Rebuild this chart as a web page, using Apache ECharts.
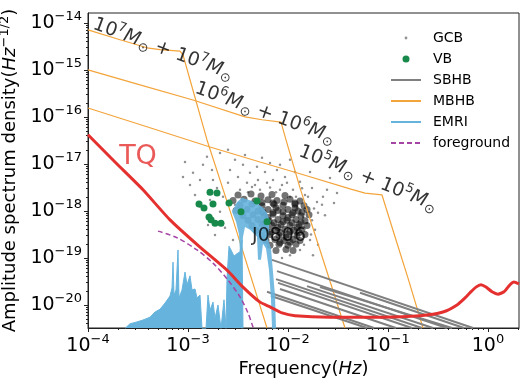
<!DOCTYPE html>
<html><head><meta charset="utf-8">
<script src="https://cdn.jsdelivr.net/npm/echarts@6/dist/echarts.min.js"></script>
<style>html,body{margin:0;padding:0;background:#fff}#c{width:520px;height:378px}</style>
</head><body><div id="c"></div>
<script>
// All values are log10(frequency / Hz) and log10(amplitude / Hz^-1/2)
const xMajor = [-4, -3, -2, -1, 0];
const yMajor = [-20, -19, -18, -17, -16, -15, -14];
const xRange = [-4, 0.31];
const yRange = [-20.49, -13.79];

const tq = [[-4.00,-16.38],[-3.73,-16.96],[-3.45,-17.55],[-3.18,-18.19],[-2.88,-18.77],[-2.61,-19.26],[-2.45,-19.62],[-2.28,-19.94],[-2.18,-20.04],[-2.06,-20.17],[-1.93,-20.23],[-1.58,-20.26],[-1.06,-20.26],[-0.68,-20.23],[-0.45,-20.15],[-0.31,-20.00],[-0.23,-19.85],[-0.18,-19.74],[-0.12,-19.62],[-0.07,-19.57],[-0.02,-19.62],[0.04,-19.72],[0.10,-19.77],[0.16,-19.72],[0.22,-19.57],[0.26,-19.51],[0.31,-19.55]];

const mbhb7 = [[-4,-14.15],[-3.68,-14.36],[-3.41,-14.53],[-3.28,-14.57],[-3.08,-14.60],[-3.05,-14.68],[-2.98,-15.21],[-2.81,-16.49],[-2.55,-18.19],[-2.21,-20.49]];
const mbhb6 = [[-4,-15.00],[-3.48,-15.32],[-2.95,-15.64],[-2.43,-16.00],[-2.26,-16.06],[-2.07,-16.11],[-2.02,-16.49],[-1.88,-17.51],[-1.68,-18.83],[-1.43,-20.49]];
const mbhb5 = [[-4,-15.81],[-3.38,-16.23],[-2.78,-16.64],[-2.28,-16.96],[-1.88,-17.21],[-1.38,-17.53],[-1.23,-17.62],[-1.06,-17.66],[-0.93,-18.55],[-0.80,-19.43],[-0.65,-20.49]];

const sbhbLines = [
  [[-2.16,-19.04],[-0.15,-20.49]],
  [[-2.11,-19.28],[-0.41,-20.49]],
  [[-2.12,-19.45],[-0.66,-20.49]],
  [[-2.10,-19.53],[-0.76,-20.49]],
  [[-1.81,-19.60],[-0.55,-20.49]],
  [[-1.68,-19.62],[-0.36,-20.49]],
  [[-1.28,-19.74],[-0.24,-20.49]],
  [[-2.21,-19.72],[-1.14,-20.49]],
  [[-2.17,-19.81],[-1.21,-20.49]],
  [[-2.08,-19.66],[-0.92,-20.49]]
];

const emriLow = [[-3.63,-20.5],[-3.58,-20.40],[-3.51,-20.36],[-3.45,-20.32],[-3.38,-20.26],[-3.33,-20.15],[-3.28,-20.09],[-3.23,-19.96],[-3.18,-19.81],[-3.16,-19.64],[-3.15,-19.09],[-3.14,-19.79],[-3.12,-19.68],[-3.10,-18.83],[-3.09,-19.85],[-3.06,-19.68],[-3.03,-19.30],[-3.01,-19.57],[-2.98,-19.38],[-2.96,-19.68],[-2.93,-19.66],[-2.91,-19.85],[-2.88,-19.79],[-2.86,-20.5],[-2.82,-20.5],[-2.80,-19.79],[-2.78,-20.11],[-2.75,-19.94],[-2.73,-20.28],[-2.70,-20.00],[-2.67,-20.5],[-2.64,-19.89],[-2.62,-20.5],[-2.61,-19.43],[-2.59,-18.75],[-2.57,-18.83],[-2.54,-18.96],[-2.51,-18.91],[-2.48,-18.87],[-2.46,-18.62],[-2.45,-20.5]];
const emriPatch = [[-2.56,-18.02],[-2.51,-17.81],[-2.46,-17.72],[-2.36,-17.79],[-2.30,-17.85],[-2.25,-17.93],[-2.21,-18.04],[-2.19,-18.17],[-2.19,-18.36],[-2.20,-18.60],[-2.17,-18.80],[-2.15,-19.30],[-2.13,-19.80],[-2.12,-20.5],[-2.16,-20.5],[-2.17,-19.89],[-2.19,-19.26],[-2.22,-18.80],[-2.25,-18.70],[-2.27,-19.04],[-2.30,-19.04],[-2.31,-18.55],[-2.38,-18.40],[-2.43,-18.34],[-2.45,-18.55],[-2.46,-18.90],[-2.48,-18.90],[-2.49,-18.50],[-2.52,-18.23]];

const foreground = [[-3.30,-18.43],[-3.11,-18.57],[-2.91,-18.83],[-2.75,-19.11],[-2.60,-19.47],[-2.48,-19.83],[-2.40,-20.17],[-2.35,-20.47],[-2.34,-20.53]];

const gcbSparse = [[-3.03,-16.96],[-2.85,-17.02],[-2.81,-16.85],[-2.68,-16.77],[-2.53,-16.91],[-2.38,-17.19],[-2.31,-17.06],[-2.18,-16.98],[-2.11,-17.13],[-2.03,-17.28],[-1.88,-17.38],[-1.78,-17.17],[-1.71,-17.81],[-1.70,-18.04],[-1.61,-17.55],[-1.51,-17.62],[-1.81,-18.26],[-2.68,-18.02],[-2.65,-17.70],[-2.60,-17.40],[-2.48,-17.55],[-2.30,-17.34],[-2.08,-17.55],[-1.98,-17.70],[-1.91,-17.91],[-1.85,-18.13],[-2.28,-17.55],[-2.41,-17.40],[-2.95,-17.19],[-2.88,-17.34],[-2.50,-17.28],[-2.21,-17.40],[-2.15,-17.34],[-2.01,-17.40],[-1.95,-17.55],[-2.71,-17.51],[-2.76,-17.13],[-2.58,-17.13],[-3.05,-17.28],[-2.93,-17.66],[-2.78,-17.77],[-2.75,-17.34],[-2.45,-17.02],[-2.23,-17.17],[-1.93,-17.17],[-1.83,-17.66],[-1.76,-17.51],[-1.66,-17.87],[-1.58,-17.30],[-1.63,-18.09],[-1.73,-18.40],[-1.78,-18.62],[-1.70,-18.72],[-2.80,-18.30],[-2.73,-18.51],[-2.63,-18.36],[-2.55,-18.62],[-2.43,-16.81],[-2.26,-16.87],[-2.98,-17.45],[-2.88,-17.91],[-2.08,-17.02],[-1.65,-17.70],[-1.54,-17.83],[-2.60,-16.70],[-1.98,-16.91],[-2.36,-17.49],[-2.53,-17.87],[-1.88,-18.83],[-1.98,-18.94],[-1.75,-18.94],[-2.06,-19.00],[-2.40,-17.60],[-2.33,-17.45],[-2.18,-17.50],[-2.06,-17.45],[-1.86,-17.52],[-1.80,-17.70],[-1.74,-17.95],[-1.76,-18.20],[-1.77,-18.50],[-1.84,-18.72],[-2.12,-17.60],[-1.92,-17.70]];
const gcbCore = [[-2.50,-17.66],[-2.37,-17.64],[-2.27,-17.68],[-2.16,-17.65],[-2.03,-17.67],[-2.55,-17.78],[-2.44,-17.75],[-2.33,-17.79],[-2.20,-17.76],[-2.11,-17.78],[-1.98,-17.75],[-1.88,-17.79],[-2.48,-17.88],[-2.36,-17.86],[-2.26,-17.89],[-2.14,-17.86],[-2.05,-17.88],[-1.93,-17.86],[-1.84,-17.89],[-2.52,-17.99],[-2.41,-17.97],[-2.30,-18.00],[-2.20,-17.97],[-2.10,-17.99],[-2.00,-17.97],[-1.90,-18.00],[-1.81,-17.97],[-2.45,-18.10],[-2.35,-18.08],[-2.24,-18.10],[-2.15,-18.07],[-2.05,-18.10],[-1.96,-18.08],[-1.87,-18.10],[-1.79,-18.08],[-2.40,-18.20],[-2.30,-18.18],[-2.19,-18.21],[-2.10,-18.18],[-2.01,-18.20],[-1.92,-18.18],[-1.83,-18.21],[-2.36,-18.31],[-2.26,-18.29],[-2.16,-18.31],[-2.07,-18.29],[-1.98,-18.31],[-1.89,-18.29],[-1.81,-18.31],[-2.32,-18.41],[-2.22,-18.39],[-2.13,-18.41],[-2.03,-18.39],[-1.94,-18.41],[-1.86,-18.39],[-2.26,-18.52],[-2.18,-18.50],[-2.09,-18.52],[-2.00,-18.50],[-1.91,-18.52],[-1.83,-18.50],[-2.22,-18.63],[-2.13,-18.61],[-2.04,-18.63],[-1.95,-18.61],[-1.88,-18.63],[-2.18,-18.73],[-2.09,-18.71],[-2.00,-18.73],[-1.92,-18.71],[-2.12,-18.84],[-2.02,-18.82],[-1.95,-18.84],[-2.26,-17.82],[-2.15,-17.83],[-2.04,-17.81],[-1.93,-17.83],[-2.25,-18.03],[-2.15,-18.04],[-2.05,-18.02],[-1.95,-18.04],[-1.86,-18.03],[-2.24,-18.24],[-2.14,-18.25],[-2.05,-18.23],[-1.96,-18.25],[-1.87,-18.24],[-2.18,-18.45],[-2.08,-18.46],[-1.98,-18.44],[-1.89,-18.46],[-2.08,-18.67],[-1.98,-18.66],[-2.20,-18.14],[-2.10,-18.35],[-2.00,-18.14],[-1.91,-18.35],[-2.02,-18.56],[-1.93,-17.94],[-2.12,-17.93]];

const vb = [[-2.78,-17.60],[-2.71,-17.62],[-2.89,-17.85],[-2.84,-17.94],[-2.75,-17.85],[-2.59,-17.83],[-2.47,-18.02],[-2.31,-17.79],[-2.79,-18.13],[-2.77,-18.19],[-2.73,-18.26],[-2.67,-18.26],[-2.21,-18.23]];

const massLabels = [
  {text: ['7', '7'], pos: [-3.25, -14.56], angle: -20},
  {text: ['6', '6'], pos: [-2.23, -15.92], angle: -20},
  {text: ['5', '5'], pos: [-1.20, -17.31], angle: -22}
];
const tqLabel = {text: 'TQ', pos: [-3.50, -16.85]};
const srcLabel = {text: 'J0806', pos: [-2.09, -18.53]};

const FONT = 'DejaVu Sans';
const RED = '#e4312f', ORANGE = '#f3a43b', GRAY = '#808080', BLUE = '#66b4de', PURPLE = '#a545a5', GREEN = '#17894b';

const minorX = [], minorY = [];
for (let n = -21; n <= 1; n++) for (let k = 2; k <= 9; k++) {
  const v = n + Math.log10(k);
  if (v > xRange[0] && v < xRange[1]) minorX.push(v);
  if (v > yRange[0] && v < yRange[1]) minorY.push(v);
}
const powLabel = v => {
  const e = Math.round(v);
  return '{b|10}{s|' + (e < 0 ? '\u2212' + (-e) : e) + '}';
};
const tickRich = {
  b: {fontFamily: FONT, fontSize: 19, color: '#000', lineHeight: 26, verticalAlign: 'middle'},
  s: {fontFamily: FONT, fontSize: 13, color: '#000', verticalAlign: 'top', lineHeight: 26}
};
const nameRich = {
  t: {fontFamily: FONT, fontSize: 18, color: '#000'},
  i: {fontFamily: FONT, fontSize: 18, color: '#000', fontStyle: 'italic'},
  s: {fontFamily: FONT, fontSize: 13, color: '#000', verticalAlign: 'top', lineHeight: 24}
};
const massRich = {
  n: {fontFamily: FONT, fontSize: 19, color: '#000', lineHeight: 25, verticalAlign: 'middle'},
  p: {fontFamily: FONT, fontSize: 13, color: '#000', verticalAlign: 'top', lineHeight: 25},
  m: {fontFamily: FONT, fontSize: 19, color: '#000', fontStyle: 'italic', lineHeight: 25, verticalAlign: 'middle'},
  o: {fontFamily: FONT, fontSize: 13, color: '#000', verticalAlign: 'bottom', lineHeight: 25}
};

const lineS = (name, data, color, width, extra) => Object.assign({
  type: 'line', name, data, symbol: 'none', silent: true, animation: false,
  lineStyle: {color, width}, itemStyle: {color}
}, extra || {});

const series = [];
[mbhb7, mbhb6, mbhb5].forEach(d => series.push(lineS('MBHB', d, ORANGE, 1.2, {z: 3})));
sbhbLines.forEach(d => series.push(lineS('SBHB', d, GRAY, 2, {z: 3})));
series.push({type: 'scatter', name: 'GCB', data: gcbSparse, symbolSize: 2.5, silent: true, animation: false,
  itemStyle: {color: '#777', opacity: 0.8}, z: 2});
series.push({type: 'scatter', name: 'GCB', data: gcbCore, symbolSize: 7, silent: true, animation: false,
  itemStyle: {color: '#0d0d0d', opacity: 0.58}, z: 2});
series.push(lineS('EMRI', emriLow, BLUE, 1, {z: 4, areaStyle: {color: BLUE, opacity: 1, origin: 'start'}}));
series.push({type: 'custom', name: 'EMRI', data: emriPatch, silent: true, animation: false, z: 4,
  itemStyle: {color: BLUE},
  renderItem: (params, api) => {
    if (params.dataIndex !== 0) return null;
    return {type: 'polygon', shape: {points: emriPatch.map(p => api.coord(p))}, style: {fill: BLUE, opacity: 0.9}};
  }});
series.push(lineS('foreground', foreground, PURPLE, 1.5, {z: 5, smooth: 0.3, lineStyle: {color: PURPLE, width: 1.5, type: [5, 3]}}));
series.push(lineS('TQ', tq, RED, 3, {z: 6, smooth: 0.2}));
series.push({type: 'scatter', name: 'VB', data: vb, symbolSize: 7, silent: true, animation: false,
  itemStyle: {color: GREEN, opacity: 1}, z: 7});
series.push({type: 'scatter', name: 'labels', silent: true, animation: false, symbolSize: 1, z: 10,
  itemStyle: {color: 'rgba(0,0,0,0)'},
  data: massLabels.map(m => ({
    value: m.pos,
    label: {show: true, position: 'inside', rotate: m.angle, rich: massRich,
      formatter: '{n|10}{p|' + m.text[0] + '}{m|M}{o|\u2299}{n| + 10}{p|' + m.text[1] + '}{m|M}{o|\u2299}'}
  })).concat([
    {value: tqLabel.pos, label: {show: true, position: 'inside', formatter: tqLabel.text,
      fontFamily: FONT, fontSize: 27, color: RED}},
    {value: srcLabel.pos, label: {show: true, position: 'inside', formatter: srcLabel.text,
      fontFamily: FONT, fontSize: 19, color: '#000'}}
  ])});

const gcbIcon = 'path://M0,0M30,0M30,10M0,10M13.6,5A1.4,1.4,0,1,1,16.4,5A1.4,1.4,0,1,1,13.6,5Z';
const vbIcon = 'path://M0,0M30,0M30,10M0,10M11.5,5A3.5,3.5,0,1,1,18.5,5A3.5,3.5,0,1,1,11.5,5Z';
const noDot = {opacity: 0};

const axisBase = {type: 'value', splitLine: {show: false}};
const option = {
  animation: false,
  backgroundColor: '#fff',
  grid: {left: 88, right: 1, top: 13, bottom: 50, containLabel: false, outerBoundsMode: 'none',
    show: true, borderColor: '#222', borderWidth: 1, backgroundColor: 'transparent'},
  legend: {
    left: 385, top: 25, orient: 'vertical', itemWidth: 30, itemHeight: 10, itemGap: 5,
    textStyle: {fontFamily: FONT, fontSize: 14, color: '#000', lineHeight: 16, padding: [0, 0, 0, 7]},
    data: [{name: 'GCB', icon: gcbIcon}, {name: 'VB', icon: vbIcon},
      {name: 'SBHB', itemStyle: noDot}, {name: 'MBHB', itemStyle: noDot},
      {name: 'EMRI', itemStyle: noDot}, {name: 'foreground', itemStyle: noDot}]
  },
  xAxis: [
    Object.assign({}, axisBase, {min: xRange[0], max: xRange[1], position: 'bottom',
      axisLine: {show: true, onZero: false, lineStyle: {color: '#222', width: 1}},
      axisTick: {show: true, customValues: xMajor, length: 4, lineStyle: {color: '#222'}},
      axisLabel: {customValues: xMajor, formatter: powLabel, rich: tickRich, margin: 5},
      name: '{t|Frequency(}{i|Hz}{t|)}', nameLocation: 'middle', nameGap: 30,
      nameTextStyle: {rich: nameRich}}),
    Object.assign({}, axisBase, {min: xRange[0], max: xRange[1], position: 'bottom',
      axisLine: {show: false, onZero: false},
      axisTick: {show: true, customValues: minorX, length: 2, lineStyle: {color: '#222'}},
      axisLabel: {show: false}})
  ],
  yAxis: [
    Object.assign({}, axisBase, {min: yRange[0], max: yRange[1], position: 'left',
      axisLine: {show: true, onZero: false, lineStyle: {color: '#222', width: 1}},
      axisTick: {show: true, customValues: yMajor, length: 4, lineStyle: {color: '#222'}},
      axisLabel: {customValues: yMajor, formatter: powLabel, rich: tickRich, margin: 6},
      name: '{t|Amplitude spectrum density(}{i|Hz}{s|\u22121/2}{t|)}', nameLocation: 'middle', nameGap: 64, nameRotate: 90,
      nameTextStyle: {rich: nameRich}}),
    Object.assign({}, axisBase, {min: yRange[0], max: yRange[1], position: 'left',
      axisLine: {show: false, onZero: false},
      axisTick: {show: true, customValues: minorY, length: 2, lineStyle: {color: '#222'}},
      axisLabel: {show: false}})
  ],
  series
};
const chart = echarts.init(document.getElementById('c'), null, {renderer: 'canvas'});
chart.setOption(option);
</script></body></html>
